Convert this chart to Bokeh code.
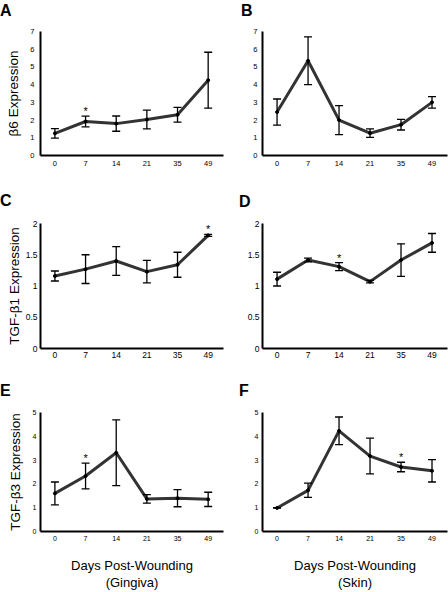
from bokeh.plotting import figure
from bokeh.models import (ColumnDataSource, Whisker, TeeHead, Range1d, FixedTicker, Div)
from bokeh.layouts import column, row
from bokeh.embed import file_html
from bokeh.resources import INLINE
from bokeh.core.properties import value

# ---------------- data ----------------
days = ["0", "7", "14", "21", "35", "49"]

b6_gingiva_mean = [1.25, 1.92, 1.80, 2.03, 2.30, 4.25]
b6_gingiva_err = [0.27, 0.30, 0.43, 0.53, 0.42, 1.58]
b6_gingiva_sig = [False, True, False, False, False, False]

b6_skin_mean = [2.45, 5.35, 2.00, 1.26, 1.74, 3.00]
b6_skin_err = [0.74, 1.35, 0.82, 0.24, 0.30, 0.32]
b6_skin_sig = [False, False, False, False, False, False]

tgfb1_gingiva_mean = [1.16, 1.27, 1.40, 1.23, 1.34, 1.81]
tgfb1_gingiva_err = [0.08, 0.23, 0.23, 0.18, 0.20, 0.015]
tgfb1_gingiva_sig = [False, False, False, False, False, True]

tgfb1_skin_mean = [1.11, 1.415, 1.31, 1.07, 1.415, 1.69]
tgfb1_skin_err = [0.11, 0.03, 0.065, 0.02, 0.26, 0.15]
tgfb1_skin_sig = [False, False, True, False, False, False]

tgfb3_gingiva_mean = [1.60, 2.33, 3.31, 1.37, 1.40, 1.35]
tgfb3_gingiva_err = [0.48, 0.54, 1.38, 0.18, 0.36, 0.30]
tgfb3_gingiva_sig = [False, True, False, False, False, False]

tgfb3_skin_mean = [0.99, 1.73, 4.23, 3.17, 2.71, 2.55]
tgfb3_skin_err = [0.01, 0.30, 0.58, 0.75, 0.20, 0.47]
tgfb3_skin_sig = [False, False, True, False, True, False]

b6_ticks = [0, 1, 2, 3, 4, 5, 6, 7]
b1_ticks = [0, 0.5, 1, 1.5, 2]
b3_ticks = [0, 1, 2, 3, 4, 5]

ylabel_b6 = "β6 Expression"
ylabel_b1 = "TGF-β1 Expression"
ylabel_b3 = "TGF-β3 Expression"
xlabel_gingiva = "Days Post-Wounding\n(Gingiva)"
xlabel_skin = "Days Post-Wounding\n(Skin)"

FONT = "Liberation Sans"


def fmt(t):
    return str(int(t)) if float(t).is_integer() else str(t)


def panel(mean, err, sig, yticks, letter, ylabel, xlabel, width, height,
          bl, bt, bb, tick_font, ytick_standoff, xtick_standoff, ylabel_standoff,
          letter_left, letter_top, div_h):
    n = len(days)
    xs = list(range(n))
    lower = [m - e for m, e in zip(mean, err)]
    upper = [m + e for m, e in zip(mean, err)]
    src = ColumnDataSource(dict(x=xs, y=mean, lower=lower, upper=upper))

    fh = height - div_h
    p = figure(width=width, height=fh, output_backend="svg",
               toolbar_location=None, tools="",
               x_range=Range1d(-0.47, n - 0.5),
               y_range=Range1d(yticks[0], yticks[-1]),
               min_border_left=bl, min_border_right=1,
               min_border_top=bt - div_h, min_border_bottom=bb)
    p.outline_line_color = None
    p.grid.visible = False
    p.background_fill_color = "white"
    p.border_fill_color = "white"

    w = Whisker(source=src, base="x", lower="lower", upper="upper",
                line_color="black", line_width=1.3,
                upper_head=TeeHead(size=8, line_color="black", line_width=1.3),
                lower_head=TeeHead(size=8, line_color="black", line_width=1.3),
                level="glyph")
    p.add_layout(w)
    p.line("x", "y", source=src, line_color="#333333", line_width=3)
    p.scatter("x", "y", source=src, size=3, color="black")

    sx = [x for x, s in zip(xs, sig) if s]
    sy = [u for u, s in zip(upper, sig) if s]
    if sx:
        p.text(x=sx, y=sy, text=["*"] * len(sx), text_align="center",
               text_baseline="middle", text_font=value(FONT),
               text_font_size="11px", text_color="black", y_offset=-5)

    xa = p.xaxis[0]
    xa.ticker = FixedTicker(ticks=xs)
    xa.major_label_overrides = {i: d for i, d in enumerate(days)}
    ya = p.yaxis[0]
    ya.ticker = FixedTicker(ticks=yticks)
    ya.major_label_overrides = {t: fmt(t) for t in yticks}
    for ax in (xa, ya):
        ax.axis_line_width = 2
        ax.axis_line_color = "black"
        ax.major_tick_line_color = None
        ax.minor_tick_line_color = None
        ax.major_tick_out = 0
        ax.major_tick_in = 0
        ax.major_label_text_font = FONT
        ax.major_label_text_font_size = tick_font
        ax.major_label_text_color = "black"
        ax.axis_label_text_font = FONT
        ax.axis_label_text_font_style = "normal"
        ax.axis_label_text_font_size = "13px"
        ax.axis_label_text_color = "black"
    ya.axis_label_text_font_size = "13.5px"
    ya.major_label_standoff = ytick_standoff
    xa.major_label_standoff = xtick_standoff
    if ylabel:
        ya.axis_label = ylabel
        ya.axis_label_standoff = ylabel_standoff
    if xlabel:
        xa.axis_label = xlabel
        xa.axis_label_standoff = 14
        xa.axis_label_text_line_height = 1.15

    html = ('<div style="position:relative; left:%dpx; top:%dpx; margin:0; padding:0; '
            'font-family:\'Liberation Sans\', Arial, sans-serif; font-weight:bold; '
            'font-size:16px; line-height:16px; color:black; white-space:nowrap;">%s</div>'
            % (letter_left, letter_top, letter))
    d = Div(text=html, width=width, height=div_h, margin=0)
    return column(d, p, spacing=0)


WL, WR = 224, 224
pa = panel(b6_gingiva_mean, b6_gingiva_err, b6_gingiva_sig, b6_ticks, "A",
           ylabel_b6, None, WL, 180, 40, 31, 25, "7.5px", 6, 5, 6, 0, 3, 20)
pb = panel(b6_skin_mean, b6_skin_err, b6_skin_sig, b6_ticks, "B",
           None, None, WR, 180, 38, 31, 25, "7.5px", 5, 5, 6, 17, 3, 20)
pc = panel(tgfb1_gingiva_mean, tgfb1_gingiva_err, tgfb1_gingiva_sig, b1_ticks, "C",
           ylabel_b1, None, WL, 190, 40, 43, 22, "8.5px", 3, 3, 1, 0, 13, 30)
pd = panel(tgfb1_skin_mean, tgfb1_skin_err, tgfb1_skin_sig, b1_ticks, "D",
           None, None, WR, 190, 38, 43, 22, "8.5px", 3, 3, 1, 15, 14, 30)
pe = panel(tgfb3_gingiva_mean, tgfb3_gingiva_err, tgfb3_gingiva_sig, b3_ticks, "E",
           ylabel_b3, xlabel_gingiva, WL, 222, 40, 42, 55, "7px", 4, 4, 7, 0, 13, 30)
pf = panel(tgfb3_skin_mean, tgfb3_skin_err, tgfb3_skin_sig, b3_ticks, "F",
           None, xlabel_skin, WR, 222, 38, 42, 55, "7px", 4, 4, 7, 15, 13, 30)

layout = column(row(pa, pb, spacing=0), row(pc, pd, spacing=0),
                row(pe, pf, spacing=0), spacing=0)

open("out.html", "w").write(file_html(layout, INLINE))
